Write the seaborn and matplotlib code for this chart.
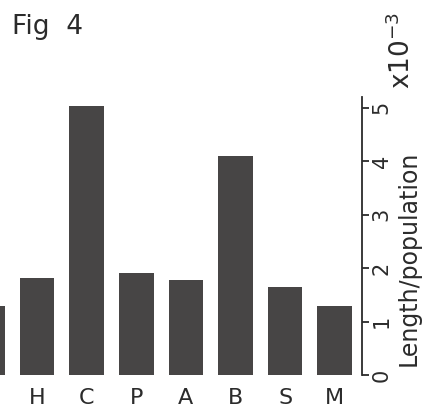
import matplotlib
matplotlib.use("Agg")
import matplotlib.pyplot as plt
import pandas as pd
import seaborn as sns

# ---------------------------------------------------------------------
# DATA (first bar is cut off at the left edge)
# ---------------------------------------------------------------------
CATEGORIES = ["", "H", "C", "P", "A", "B", "S", "M"]
VALUES = [1.29, 1.81, 5.03, 1.90, 1.78, 4.09, 1.64, 1.29]   # x10^-3
Y_TICKS = [0, 1, 2, 3, 4, 5]

BAR_COLOR = "#474545"
TEXT_COLOR = "#2b2b2b"

sns.set_theme(style="white")
plt.rcParams["font.family"] = ["DejaVu Sans"]

df = pd.DataFrame({"cat": CATEGORIES, "val": VALUES})

fig = plt.figure(figsize=(4.3, 4.09), dpi=100)
ax = fig.add_axes([0.0, 34 / 409, 362 / 430, 278 / 409])

sns.barplot(data=df, x="cat", y="val", order=CATEGORIES, color=BAR_COLOR,
            width=0.7, saturation=1, ax=ax, linewidth=0)

ax.set_xlim(0.252, 7.55)
ax.set_ylim(0, 5.2)

# axis on the right, as in the scan
for side in ["left", "top", "bottom"]:
    ax.spines[side].set_visible(False)
ax.spines["right"].set_color(TEXT_COLOR)
ax.spines["right"].set_linewidth(1.3)
ax.yaxis.tick_right()
ax.set_yticks(Y_TICKS)
ax.set_yticklabels([str(t) for t in Y_TICKS], rotation=90, va="center",
                   fontsize=15, color=TEXT_COLOR)
ax.tick_params(axis="y", direction="out", length=5, width=1.3, pad=2,
               colors=TEXT_COLOR)
ax.tick_params(axis="x", length=0, pad=9, labelsize=16, labelcolor=TEXT_COLOR)
ax.set_xlabel("")

ax.set_ylabel("Length/population", fontsize=17, color=TEXT_COLOR, rotation=90)
ax.yaxis.set_label_position("right")
ax.yaxis.set_label_coords(1.095, 0.42)

fig.text(12 / 430, 1 - 27 / 409, "Fig  4", fontsize=19, color=TEXT_COLOR,
         va="center", ha="left")
fig.text(402 / 430, 1 - 50 / 409, "x10$^{-3}$", fontsize=19, color=TEXT_COLOR,
         rotation=90, va="center", ha="center")

fig.savefig("out.png", dpi=100)
